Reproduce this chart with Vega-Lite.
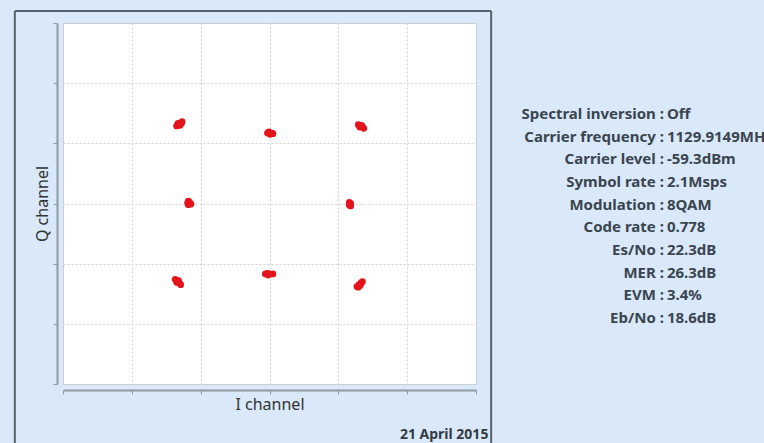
{
  "$schema": "https://vega.github.io/schema/vega-lite/v6.json",
  "background": "#d9e9f9",
  "padding": {"left": 13, "top": 9, "right": 0, "bottom": 0},
  "spacing": 0,
  "config": {"view": {"stroke": null}, "font": "Noto Sans"},
  "datasets": {
    "iq": [
      {"I": -1.35, "Q": 1.29}, {"I": -1.32, "Q": 1.31}, {"I": -1.29, "Q": 1.34}, {"I": -1.27, "Q": 1.36}, {"I": -1.33, "Q": 1.33}, {"I": -1.30, "Q": 1.30}, {"I": -1.28, "Q": 1.33},
      {"I": -0.03, "Q": 1.17}, {"I": 0.0, "Q": 1.18}, {"I": 0.03, "Q": 1.17}, {"I": 0.05, "Q": 1.16}, {"I": 0.01, "Q": 1.15}, {"I": -0.01, "Q": 1.19},
      {"I": 1.29, "Q": 1.31}, {"I": 1.32, "Q": 1.29}, {"I": 1.35, "Q": 1.27}, {"I": 1.37, "Q": 1.25}, {"I": 1.31, "Q": 1.27}, {"I": 1.34, "Q": 1.30},
      {"I": -1.18, "Q": 0.04}, {"I": -1.19, "Q": 0.01}, {"I": -1.18, "Q": -0.02}, {"I": -1.17, "Q": 0.0}, {"I": -1.16, "Q": 0.02}, {"I": -1.14, "Q": -0.01},
      {"I": 1.16, "Q": 0.02}, {"I": 1.17, "Q": -0.01}, {"I": 1.18, "Q": -0.04}, {"I": 1.16, "Q": -0.03}, {"I": 1.18, "Q": 0.0},
      {"I": -1.37, "Q": -1.26}, {"I": -1.34, "Q": -1.29}, {"I": -1.31, "Q": -1.32}, {"I": -1.29, "Q": -1.35}, {"I": -1.35, "Q": -1.31}, {"I": -1.32, "Q": -1.28},
      {"I": -0.06, "Q": -1.17}, {"I": -0.03, "Q": -1.16}, {"I": 0.0, "Q": -1.17}, {"I": -0.02, "Q": -1.19}, {"I": 0.05, "Q": -1.17},
      {"I": 1.27, "Q": -1.38}, {"I": 1.30, "Q": -1.35}, {"I": 1.33, "Q": -1.32}, {"I": 1.35, "Q": -1.30}, {"I": 1.29, "Q": -1.39}, {"I": 1.32, "Q": -1.36}
    ],
    "info": [
      {"row": 1, "k": "Spectral inversion :", "v": "Off"},
      {"row": 2, "k": "Carrier frequency :", "v": "1129.9149MHz"},
      {"row": 3, "k": "Carrier level :", "v": "-59.3dBm"},
      {"row": 4, "k": "Symbol rate :", "v": "2.1Msps"},
      {"row": 5, "k": "Modulation :", "v": "8QAM"},
      {"row": 6, "k": "Code rate :", "v": "0.778"},
      {"row": 7, "k": "Es/No :", "v": "22.3dB"},
      {"row": 8, "k": "MER :", "v": "26.3dB"},
      {"row": 9, "k": "EVM :", "v": "3.4%"},
      {"row": 10, "k": "Eb/No :", "v": "18.6dB"}
    ]
  },
  "hconcat": [
    {
      "width": 413,
      "height": 361,
      "view": {"stroke": "#c3c9ce", "fill": "white"},
      "layer": [
        {
          "data": {"name": "iq"},
          "mark": {"type": "circle", "size": 45, "opacity": 1, "color": "#e3141b"},
          "encoding": {
            "x": {
              "field": "I", "type": "quantitative",
              "scale": {"domain": [-3, 3], "nice": false, "zero": false},
              "axis": {
                "title": "I channel", "labels": false, "values": [-3, -2, -1, 0, 1, 2, 3],
                "grid": true, "gridDash": [2, 2], "gridColor": "#d2d2d2",
                "domainColor": "#8d9aa4", "domainWidth": 2, "offset": 6,
                "tickColor": "#8d9aa4", "tickSize": 4,
                "titleFont": "Noto Sans", "titleFontSize": 16, "titleFontWeight": "normal", "titleColor": "#333333", "titlePadding": 2
              }
            },
            "y": {
              "field": "Q", "type": "quantitative",
              "scale": {"domain": [-3, 3], "nice": false, "zero": false},
              "axis": {
                "title": "Q channel", "labels": false, "values": [-3, -2, -1, 0, 1, 2, 3],
                "grid": true, "gridDash": [2, 2], "gridColor": "#d2d2d2",
                "domainColor": "#8d9aa4", "domainWidth": 2, "offset": 6,
                "tickColor": "#8d9aa4", "tickSize": 4,
                "titleFont": "Noto Sans", "titleFontSize": 16, "titleFontWeight": "normal", "titleColor": "#333333", "titlePadding": 2
              }
            }
          }
        },
        {
          "data": {"values": [{}]},
          "mark": {"type": "rule", "color": "#56626b", "strokeWidth": 2},
          "encoding": {"x": {"datum": -3.7}, "y": {"datum": 3.2}, "y2": {"datum": -3.98}}
        },
        {
          "data": {"values": [{}]},
          "mark": {"type": "rule", "color": "#56626b", "strokeWidth": 2},
          "encoding": {"x": {"datum": 3.22}, "y": {"datum": 3.2}, "y2": {"datum": -3.98}}
        },
        {
          "data": {"values": [{}]},
          "mark": {"type": "rule", "color": "#56626b", "strokeWidth": 2},
          "encoding": {"x": {"datum": -3.7}, "x2": {"datum": 3.22}, "y": {"datum": 3.2}}
        },
        {
          "data": {"values": [{}]},
          "mark": {"type": "text", "align": "right", "baseline": "middle", "font": "Noto Sans", "fontSize": 14, "fontWeight": "bold", "color": "#333b42"},
          "encoding": {"x": {"datum": 3.18}, "y": {"datum": -3.85}, "text": {"value": "21 April 2015"}}
        }
      ]
    },
    {
      "width": 273,
      "height": 421,
      "data": {"name": "info"},
      "layer": [
        {
          "mark": {"type": "text", "align": "right", "baseline": "middle", "font": "Noto Sans", "fontSize": 15, "fontWeight": "bold", "color": "#3a4550", "clip": true},
          "encoding": {
            "x": {"datum": 0.626, "type": "quantitative", "scale": {"domain": [0, 1], "nice": false}, "axis": null},
            "y": {"field": "row", "type": "quantitative", "scale": {"domain": [-3.014, 15.557], "nice": false, "zero": false, "reverse": true}, "axis": null},
            "text": {"field": "k"}
          }
        },
        {
          "mark": {"type": "text", "align": "left", "baseline": "middle", "dx": 3, "font": "Noto Sans", "fontSize": 15, "fontWeight": "bold", "color": "#3a4550", "clip": true},
          "encoding": {
            "x": {"datum": 0.626, "type": "quantitative"},
            "y": {"field": "row", "type": "quantitative"},
            "text": {"field": "v"}
          }
        }
      ]
    }
  ]
}
